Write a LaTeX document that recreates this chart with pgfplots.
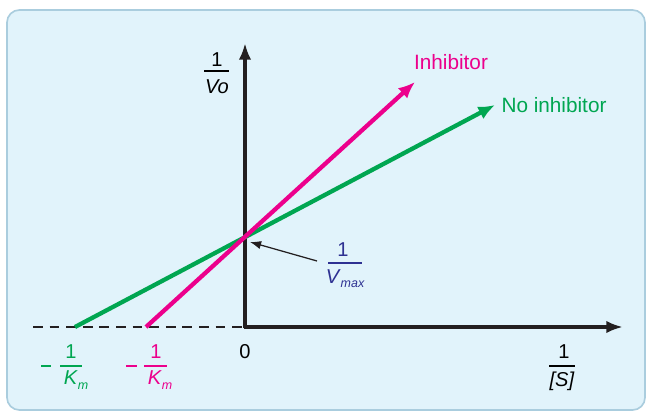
\documentclass[border=0pt]{standalone}
\usepackage{pgfplots}
\pgfplotsset{compat=1.18}
\usetikzlibrary{arrows.meta}
\usepackage{fontspec}
\setmainfont{Liberation Sans}

\definecolor{grn}{RGB}{0,166,81}
\definecolor{mag}{RGB}{236,0,140}
\definecolor{vblue}{RGB}{46,49,146}
\definecolor{axisblack}{RGB}{35,31,32}
\definecolor{panel}{RGB}{225,243,251}
\definecolor{panelborder}{RGB}{170,205,222}

\newcommand{\fs}{\fontsize{14.5}{17}\selectfont}
\newcommand{\sub}[1]{\raisebox{-0.4ex}{\fontsize{9}{10}\selectfont\itshape #1}}

\begin{document}
\begin{tikzpicture}
\path[use as bounding box] (0,0) rectangle (6.46in,4.15in);
\begin{axis}[
    at={(0,0)}, anchor=south west,
    scale only axis,
    width=6.46in, height=4.15in,
    xmin=-24.5, xmax=40.1,
    ymin=-8.8, ymax=32.7,
    hide axis,
    clip=false,
]
% panel
\draw[fill=panel, draw=panelborder, line width=1.2pt, rounded corners=9pt]
    (axis cs:-23.8,31.7) rectangle (axis cs:40.0,-8.3);

% axes
\addplot[axisblack, line width=2pt, dash pattern=on 7pt off 5pt] coordinates {(-21.2,0) (0,0)};
\addplot[axisblack, line width=2.4pt, -{Latex[length=12pt,width=9pt]}] coordinates {(-0.1,0) (37.8,0)};
\addplot[axisblack, line width=2.4pt, -{Latex[length=12pt,width=9pt]}] coordinates {(0,-0.1) (0,28.4)};

% lines
\addplot[grn, line width=3.1pt, -{Latex[length=12pt,width=10pt]}] coordinates {(-17,0) (25,22.2)};
\addplot[mag, line width=3.1pt, -{Latex[length=12pt,width=10pt]}] coordinates {(-9.9,0) (17,24.5)};

% pointer to 1/Vmax
\addplot[axisblack, line width=0.9pt, -{Latex[length=8pt,width=6pt]}] coordinates {(7.2,6.6) (0.5,8.5)};

% labels
\node[mag, font=\fontsize{15}{18}\selectfont] at (axis cs:20.6,26.5) {Inhibitor};
\node[grn, font=\fontsize{15}{18}\selectfont] at (axis cs:30.9,22.2) {No inhibitor};

% 1/Vo
\node[font=\fs] at (axis cs:-2.8,26.7) {1};
\draw[line width=1pt] (axis cs:-4.1,25.6) -- (axis cs:-1.6,25.6);
\node[font=\fs] at (axis cs:-2.8,24.0) {\textit{Vo}};

% 0
\node[font=\fs] at (axis cs:0,-2.5) {0};

% green -1/Km
\draw[grn, line width=1.5pt] (axis cs:-20.4,-3.9) -- (axis cs:-19.4,-3.9);
\node[grn, font=\fs] at (axis cs:-17.4,-2.5) {1};
\draw[grn, line width=1pt] (axis cs:-18.5,-3.9) -- (axis cs:-16.3,-3.9);
\node[grn, font=\fs] at (axis cs:-16.9,-5.3) {\textit{K}\sub{m}};

% magenta -1/Km
\draw[mag, line width=1.5pt] (axis cs:-11.9,-3.9) -- (axis cs:-10.8,-3.9);
\node[mag, font=\fs] at (axis cs:-8.9,-2.5) {1};
\draw[mag, line width=1pt] (axis cs:-10.1,-3.9) -- (axis cs:-7.8,-3.9);
\node[mag, font=\fs] at (axis cs:-8.5,-5.3) {\textit{K}\sub{m}};

% 1/[S]
\node[font=\fs] at (axis cs:31.9,-2.5) {1};
\draw[line width=1pt] (axis cs:30.4,-3.9) -- (axis cs:33.0,-3.9);
\node[font=\fs] at (axis cs:31.7,-5.4) {\textit{[S]}};

% 1/Vmax
\node[vblue, font=\fs] at (axis cs:9.8,7.7) {1};
\draw[vblue, line width=1pt] (axis cs:8.3,6.4) -- (axis cs:11.7,6.4);
\node[vblue, font=\fs] at (axis cs:10.0,4.8) {\textit{V}\sub{max}};
\end{axis}
\end{tikzpicture}
\end{document}
